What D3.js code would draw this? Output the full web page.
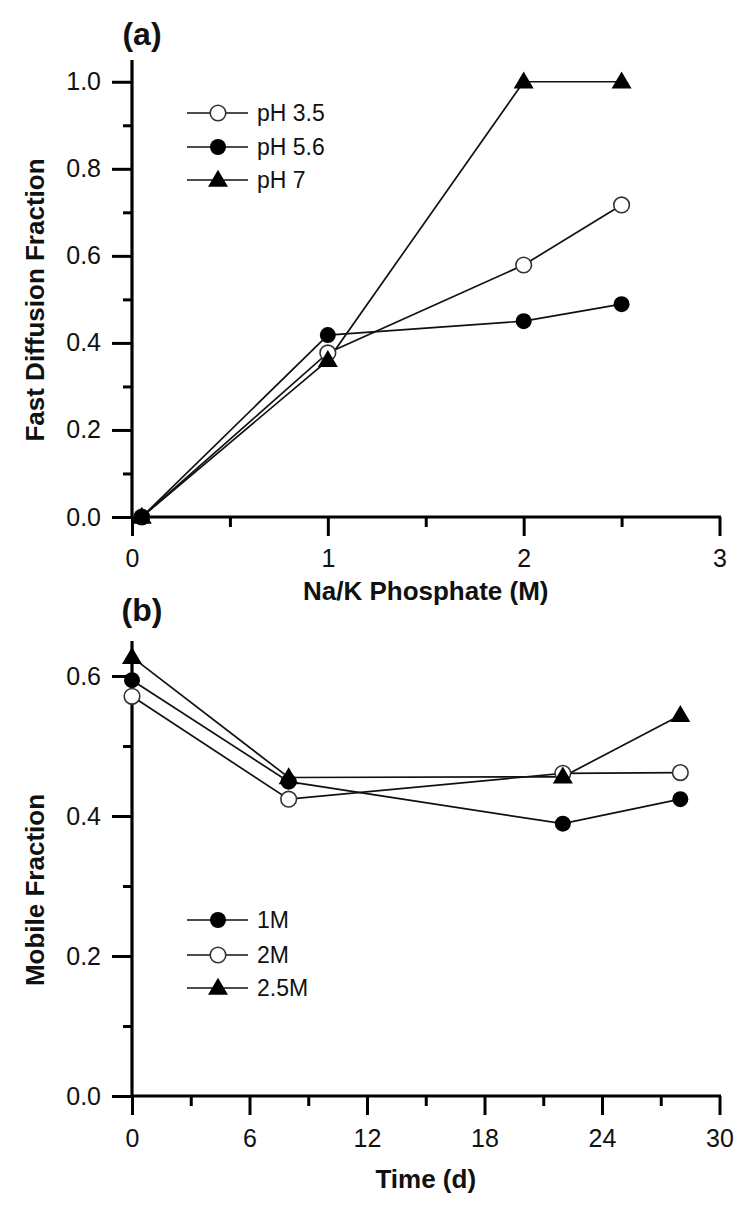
<!DOCTYPE html>
<html>
<head>
<meta charset="utf-8">
<script src="https://cdn.jsdelivr.net/npm/d3@7/dist/d3.min.js"></script>
<style>
  html, body { margin: 0; padding: 0; background: #fff; }
  svg { display: block; font-family: "Liberation Sans", Arial, sans-serif; }
</style>
</head>
<body>
<svg id="chart" width="750" height="1208"></svg>
<script>
// ---------- Panel (a) data ----------
const phosphate = [0.05, 1, 2, 2.5];
const pH35 = [0, 0.377, 0.579, 0.717];
const pH56 = [0, 0.418, 0.45, 0.489];
const pH7  = [0, 0.36, 1.0, 1.0];
const legendA = ["pH 3.5", "pH 5.6", "pH 7"];
const xTicksA = [0, 1, 2, 3];
const xMinorA = [0.5, 1.5, 2.5];
const yTicksA = [0, 0.2, 0.4, 0.6, 0.8, 1.0];
const yMinorA = [0.1, 0.3, 0.5, 0.7, 0.9];

// ---------- Panel (b) data ----------
const days = [0, 8, 22, 28];
const m1  = [0.594, 0.449, 0.389, 0.424];
const m2  = [0.571, 0.424, 0.461, 0.462];
const m25 = [0.627, 0.455, 0.456, 0.544];
const legendB = ["1M", "2M", "2.5M"];
const xTicksB = [0, 6, 12, 18, 24, 30];
const xMinorB = [3, 9, 15, 21, 27];
const yTicksB = [0, 0.2, 0.4, 0.6];
const yMinorB = [0.1, 0.3, 0.5];

const svg = d3.select("#chart");

function drawPanel(cfg) {
  const g = svg.append("g");
  const x = d3.scaleLinear().domain(cfg.xDomain).range([132, 719.5]);
  const y = d3.scaleLinear().domain(cfg.yDomain).range(cfg.yRange);

  // minor ticks
  g.append("g").attr("transform", `translate(0,${y(0)})`)
    .call(d3.axisBottom(x).tickValues(cfg.xMinor).tickSize(10).tickFormat(""));
  g.append("g").attr("transform", `translate(${x(0)},0)`)
    .call(d3.axisLeft(y).tickValues(cfg.yMinor).tickSize(9).tickFormat(""));
  // major
  g.append("g").attr("transform", `translate(0,${y(0)})`)
    .call(d3.axisBottom(x).tickValues(cfg.xTicks).tickSize(19).tickPadding(cfg.xPad)
      .tickFormat(d3.format("d")));
  g.append("g").attr("transform", `translate(${x(0)},0)`)
    .call(d3.axisLeft(y).tickValues(cfg.yTicks).tickSize(20).tickPadding(11)
      .tickFormat(d3.format(".1f")));
  g.selectAll(".domain").remove();
  g.selectAll(".tick line").attr("stroke", "#000").attr("stroke-width", 3);
  g.selectAll(".tick text").attr("font-size", 25).attr("fill", "#111")
    .attr("font-family", "Liberation Sans, Arial, sans-serif");

  // axis lines
  g.append("line").attr("x1", x(cfg.xDomain[0])).attr("x2", x(cfg.xDomain[1]) + 1.5)
    .attr("y1", y(0)).attr("y2", y(0)).attr("stroke", "#000").attr("stroke-width", 3.2);
  g.append("line").attr("x1", x(0)).attr("x2", x(0))
    .attr("y1", y(0)).attr("y2", y(cfg.yDomain[1])).attr("stroke", "#000").attr("stroke-width", 3.2);

  // series
  const line = d3.line().x((d, i) => x(cfg.xs[i])).y(d => y(d));
  cfg.series.forEach(s => {
    g.append("path").datum(s.values).attr("d", line)
      .attr("fill", "none").attr("stroke", "#111").attr("stroke-width", 1.7);
  });
  cfg.series.forEach(s => {
    s.values.forEach((v, i) => drawMarker(g, s.marker, x(cfg.xs[i]), y(v)));
  });

  // legend
  cfg.series.forEach((s, k) => {
    const ly = cfg.legendY[k];
    g.append("line").attr("x1", 187).attr("x2", 248).attr("y1", ly).attr("y2", ly)
      .attr("stroke", "#111").attr("stroke-width", 1.7);
    drawMarker(g, s.marker, 218, ly);
    g.append("text").attr("x", 257).attr("y", ly + 8).attr("font-size", 23)
      .attr("fill", "#111").text(cfg.legend[k]);
  });

  // panel label
  g.append("text").attr("x", 142).attr("y", cfg.labelY).attr("text-anchor", "middle")
    .attr("font-size", 32).attr("font-weight", "bold").attr("fill", "#111").text(cfg.label);
  // x title
  g.append("text").attr("x", (x.range()[0] + x.range()[1]) / 2).attr("y", cfg.xTitleY)
    .attr("text-anchor", "middle").attr("font-size", 26).attr("font-weight", "bold")
    .attr("fill", "#111").text(cfg.xTitle);
  // y title
  g.append("text").attr("transform", `translate(44,${cfg.yTitleC}) rotate(-90)`)
    .attr("text-anchor", "middle").attr("font-size", 26).attr("font-weight", "bold")
    .attr("fill", "#111").text(cfg.yTitle);
}

function drawMarker(g, type, cx, cy) {
  if (type === "open") {
    g.append("circle").attr("cx", cx).attr("cy", cy).attr("r", 7.8)
      .attr("fill", "#fff").attr("stroke", "#333").attr("stroke-width", 1.6);
  } else if (type === "filled") {
    g.append("circle").attr("cx", cx).attr("cy", cy).attr("r", 8)
      .attr("fill", "#000");
  } else {
    const s = 20, h = 17;
    g.append("path")
      .attr("d", `M${cx},${cy - h * 0.6}L${cx + s / 2},${cy + h * 0.4}L${cx - s / 2},${cy + h * 0.4}Z`)
      .attr("fill", "#000");
  }
}

drawPanel({
  xDomain: [0, 3], yDomain: [0, 1.05], yRange: [517, 60],
  xs: phosphate,
  xTicks: xTicksA, xMinor: xMinorA, yTicks: yTicksA, yMinor: yMinorA, xPad: 13,
  series: [
    { values: pH35, marker: "open" },
    { values: pH56, marker: "filled" },
    { values: pH7, marker: "tri" }
  ],
  legend: legendA, legendY: [113, 147, 180],
  label: "(a)", labelY: 45,
  xTitle: "Na/K Phosphate (M)", xTitleY: 600,
  yTitle: "Fast Diffusion Fraction", yTitleC: 300
});

drawPanel({
  xDomain: [0, 30], yDomain: [0, 0.65], yRange: [1096, 641],
  xs: days,
  xTicks: xTicksB, xMinor: xMinorB, yTicks: yTicksB, yMinor: yMinorB, xPad: 14,
  series: [
    { values: m1, marker: "filled" },
    { values: m2, marker: "open" },
    { values: m25, marker: "tri" }
  ],
  legend: legendB, legendY: [920, 955, 988],
  label: "(b)", labelY: 621,
  xTitle: "Time (d)", xTitleY: 1188,
  yTitle: "Mobile Fraction", yTitleC: 890
});
</script>
</body>
</html>
